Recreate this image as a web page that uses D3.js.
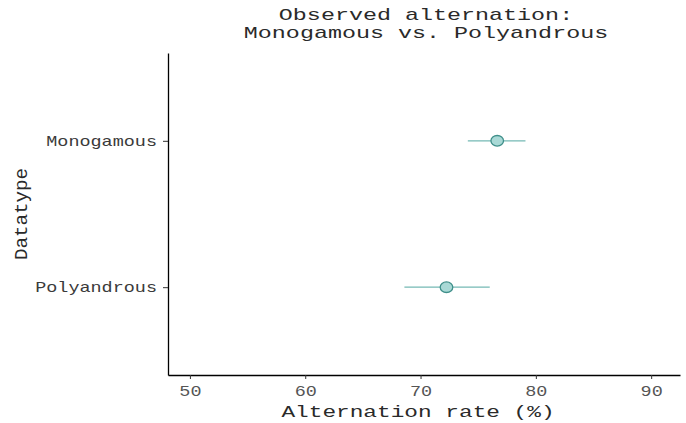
<!DOCTYPE html>
<html>
<head>
<meta charset="utf-8">
<script src="https://cdn.jsdelivr.net/npm/d3@7"></script>
<style>
  body { margin: 0; background: #fff; }
  text { font-family: "Liberation Mono", "Courier New", monospace; }
</style>
</head>
<body>
<svg id="chart" width="686" height="423"></svg>
<script>
// data
const categories = ['Polyandrous', 'Monogamous'];
const means = [72.25, 76.65];
const lowers = [68.6, 74.1];
const uppers = [76.0, 79.1];
const xTicks = [50, 60, 70, 80, 90];

const titleLines = ['Observed alternation:', 'Monogamous vs. Polyandrous'];

const width = 686, height = 423;
const margin = {top: 53, right: 6, bottom: 48, left: 168};
// the reference picture is wider than tall, its text looks stretched
const sx = 1.32;

const svg = d3.select('#chart');

const x = d3.scaleLinear()
    .domain([48.1, 92.5])
    .range([margin.left, width - margin.right]);

// discrete axis, ggplot style expansion of 0.6 on each side
const y = d3.scaleLinear()
    .domain([0.4, categories.length + 0.6])
    .range([height - margin.bottom, margin.top]);

const data = categories.map((c, i) => ({cat: c, pos: i + 1, mean: means[i], lo: lowers[i], hi: uppers[i]}));

// x axis
const xAxis = svg.append('g')
    .attr('transform', 'translate(0,' + (height - margin.bottom) + ')')
    .call(d3.axisBottom(x).tickValues(xTicks).tickSize(4).tickPadding(4).tickSizeOuter(0));
xAxis.select('.domain').attr('stroke', '#000').attr('stroke-width', 1.3);
xAxis.selectAll('.tick line').attr('stroke', '#333');
xAxis.selectAll('text')
    .attr('font-size', 14)
    .attr('fill', '#555')
    .attr('dy', null)
    .attr('y', 21)
    .attr('transform', 'scale(' + sx + ',1)');

// y axis
const yAxis = svg.append('g')
    .attr('transform', 'translate(' + margin.left + ',0)')
    .call(d3.axisLeft(y).tickValues(data.map(d => d.pos))
      .tickFormat(d => categories[d - 1]).tickSize(5).tickPadding(5).tickSizeOuter(0));
yAxis.select('.domain').attr('stroke', '#000').attr('stroke-width', 1.3);
yAxis.selectAll('.tick line').attr('stroke', '#333');
yAxis.selectAll('text')
    .attr('font-size', 14)
    .attr('fill', '#3a3a3a')
    .attr('x', -11 / sx)
    .attr('transform', 'scale(' + sx + ',1)');

// error bars
svg.selectAll('.err')
    .data(data)
    .enter()
    .append('line')
    .attr('x1', d => x(d.lo))
    .attr('x2', d => x(d.hi))
    .attr('y1', d => y(d.pos))
    .attr('y2', d => y(d.pos))
    .attr('stroke', '#74b9b4')
    .attr('stroke-width', 1.3);

// points (slightly wide, like the reference)
svg.selectAll('.pt')
    .data(data)
    .enter()
    .append('ellipse')
    .attr('cx', d => x(d.mean))
    .attr('cy', d => y(d.pos))
    .attr('rx', 6.3)
    .attr('ry', 5.3)
    .attr('fill', '#a9d9d6')
    .attr('stroke', '#3f8f8a')
    .attr('stroke-width', 1.3);

// title
const title = svg.append('text')
    .attr('text-anchor', 'middle')
    .attr('font-size', 16)
    .attr('fill', '#2a2a2a')
    .attr('transform', 'translate(426,0) scale(1.46,1)');
titleLines.forEach((t, i) => {
  title.append('tspan')
    .attr('x', 0)
    .attr('y', 20 + i * 18)
    .text(t);
});

// axis titles
svg.append('text')
    .attr('transform', 'translate(418,417) scale(1.38,1)')
    .attr('text-anchor', 'middle')
    .attr('font-size', 16.5)
    .attr('fill', '#2a2a2a')
    .text('Alternation rate (%)');

svg.append('text')
    .attr('transform', 'translate(27,214) rotate(-90) scale(1.13,1.05)')
    .attr('text-anchor', 'middle')
    .attr('font-size', 17)
    .attr('fill', '#2a2a2a')
    .text('Datatype');
</script>
</body>
</html>
